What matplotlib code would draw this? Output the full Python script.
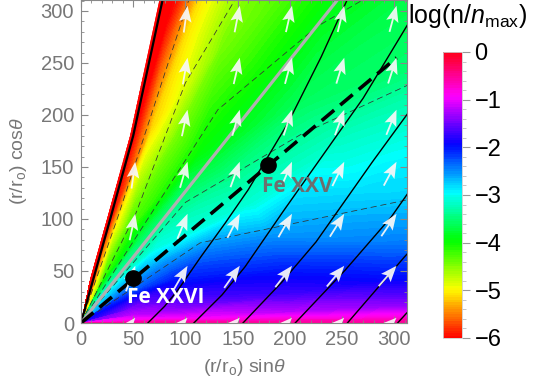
import numpy as np
import matplotlib.pyplot as plt
import matplotlib.tri as mtri
from matplotlib.patches import Polygon
from matplotlib.ticker import MultipleLocator

plt.rcParams['font.family'] = ['Liberation Sans', 'DejaVu Sans']
plt.rcParams['mathtext.fontset'] = 'custom'
plt.rcParams['mathtext.rm'] = 'Liberation Sans'
plt.rcParams['mathtext.it'] = 'Liberation Sans:italic'

# log(n/n_max) (angle above disk, radius)
phi_deg = [0, 3, 8, 15, 25, 35, 45, 55, 63, 70, 74, 78]
rad = [2, 50, 100, 200, 300, 450]
logn = [
    [-0.5, -0.5, -0.5, -0.5, -0.5, -0.5],
    [-0.9, -0.85, -1.0, -1.2, -1.35, -1.55],
    [-1.2, -1.15, -1.4, -1.7, -1.95, -2.2],
    [-1.5, -1.4, -1.7, -2.05, -2.45, -2.7],
    [-1.9, -1.85, -2.05, -2.55, -2.82, -3.0],
    [-2.3, -2.35, -2.5, -3.1, -3.17, -3.45],
    [-2.7, -2.8, -3.05, -3.45, -3.6, -3.7],
    [-3.3, -3.4, -3.65, -3.95, -4.05, -4.1],
    [-4.2, -4.2, -4.25, -4.45, -4.45, -4.5],
    [-5.2, -5.1, -5.0, -5.15, -5.1, -5.2],
    [-6.0, -6.0, -6.0, -6.0, -6.0, -6.0],
    [-7.0, -7.0, -7.0, -7.0, -7.0, -7.0],
]

# wind boundary (outermost streamline)
edge_x = [0, 28, 50, 78, 81]
edge_y = [0, 100, 180, 310, 320]

# streamlines
stream_x = [
    [64, 80, 93, 115, 138, 160, 198, 230, 259],
    [108, 135, 157, 194, 232, 270, 335],
    [155, 192, 225, 279, 335, 388],
    [205, 253, 297, 369],
    [255, 310, 370],
    [303, 440],
]
stream_y = [
    [0, 16, 32, 64, 96, 128, 192, 256, 320],
    [0, 27, 54, 108, 162, 216, 324],
    [0, 39, 78, 155, 232, 310],
    [0, 51, 102, 205],
    [0, 64, 128],
    [0, 150],
]

# thin dashed curves
thin_x = [
    [0, 36, 103],
    [0, 52, 100, 147],
    [0, 131, 226, 320],
    [0, 100, 210, 320],
    [0, 114, 320],
]
thin_y = [
    [0, 104, 310],
    [0, 104, 231, 310],
    [0, 205, 285, 340],
    [0, 116, 181, 232],
    [0, 77, 120],
]

# gray sight line and dashed sight line
gray_x = [0, 245]
gray_y = [0, 310]
los_x = [0, 302]
los_y = [0, 255]

# ion positions
ion_names = ['Fe XXVI', 'Fe XXV']
ion_x = [50, 179]
ion_y = [43, 152]

# velocity arrows (tip positions, direction in degrees)
arrow_x = [52, 102, 152, 202, 252, 302]
arrow_y = [5, 55, 105, 155, 205, 255, 305]
arrow_ang = [
    [50, 46, 45, 45, 44, 43],
    [70, 60, 55, 52, 50, 49],
    [78, 68, 63, 60, 58, 56],
    [82, 74, 70, 67, 64, 62],
    [np.nan, 78, 74, 72, 70, 68],
    [np.nan, 80, 77, 75, 73, 72],
    [np.nan, 82, 79, 77, 76, 75],
]
arrow_len = 26

fig = plt.figure(figsize=(5.47, 3.88), dpi=100)
ax = fig.add_axes([0.148, 0.1675, 0.596, 0.8325])
cax = fig.add_axes([0.810, 0.129, 0.0347, 0.737])

P, R = np.meshgrid(np.radians(phi_deg), rad, indexing='ij')
tri = mtri.Triangulation((R * np.cos(P)).ravel(), (R * np.sin(P)).ravel())
cs = ax.tricontourf(tri, np.array(logn).ravel(), levels=np.linspace(-7.2, 0, 145),
                    cmap='hsv', vmin=-6, vmax=0, antialiased=False)
wedge = Polygon([(-3, 0), (25, 100), (47, 180), (75, 310), (76, 330), (400, 330), (400, 0)],
                closed=True, transform=ax.transData, facecolor='none', edgecolor='none')
ax.add_patch(wedge)
cs.set_clip_path(wedge)

for sx, sy in zip(thin_x, thin_y):
    ax.plot(sx, sy, color='#333333', lw=0.55, dashes=(8, 5))
for sx, sy in zip(stream_x, stream_y):
    ax.plot(sx, sy, color='black', lw=1.0)
ax.plot(edge_x, edge_y, color='black', lw=1.6)
ax.plot(gray_x, gray_y, color='#b0b0b0', lw=2.3)
ax.plot(los_x, los_y, color='black', lw=2.6, dashes=(4.5, 2.2))

AX, AY = np.meshgrid(arrow_x, arrow_y)
ang = np.radians(np.array(arrow_ang, dtype=float))
ax.quiver(AX, AY, arrow_len * np.cos(ang), arrow_len * np.sin(ang), pivot='tip',
          angles='xy', scale_units='xy', scale=1, color='#f8f8f8', alpha=0.93,
          units='dots', width=1.8, headwidth=7, headlength=9, headaxislength=7.5, zorder=4)

ax.plot(ion_x, ion_y, 'o', color='black', ms=11, zorder=5)
ax.text(44, 25, ion_names[0], color='white', fontsize=15, fontweight='bold',
        family='Open Sans', va='center', zorder=6)
ax.text(173, 131, ion_names[1], color='#6e6e6e', fontsize=15, fontweight='bold',
        family='Open Sans', va='center', zorder=6)

ax.set_xlim(0, 312)
ax.set_ylim(0, 310.5)
ax.xaxis.set_major_locator(MultipleLocator(50))
ax.yaxis.set_major_locator(MultipleLocator(50))
ax.xaxis.set_minor_locator(MultipleLocator(10))
ax.yaxis.set_minor_locator(MultipleLocator(10))
ax.tick_params(which='both', direction='in', top=True, right=True, color='#888888')
ax.tick_params(which='major', length=5, labelsize=14.5, labelcolor='#777777', pad=5)
ax.tick_params(which='minor', length=2.5)
for s in ax.spines.values():
    s.set_color('#888888')
ax.set_xlabel(r'(r/r$_\mathregular{o}$) sin$\theta$', fontsize=14, color='#777777', labelpad=6)
ax.set_ylabel(r'(r/r$_\mathregular{o}$) cos$\theta$', fontsize=14, color='#777777', labelpad=8)

cb = fig.colorbar(cs, cax=cax, ticks=range(-6, 1))
cb.outline.set_edgecolor('#cccccc')
cb.outline.set_linewidth(0.6)
cax.set_ylim(-6, 0)
cax.yaxis.set_minor_locator(MultipleLocator(0.2))
cax.tick_params(which='major', length=6, labelsize=17, color='#999999', pad=3)
cax.tick_params(which='minor', length=3, color='#bbbbbb')
fig.text(0.745, 0.96, r'log(n/$n_\mathregular{max}$)', fontsize=18, va='center')

fig.savefig('out.png', dpi=100)
